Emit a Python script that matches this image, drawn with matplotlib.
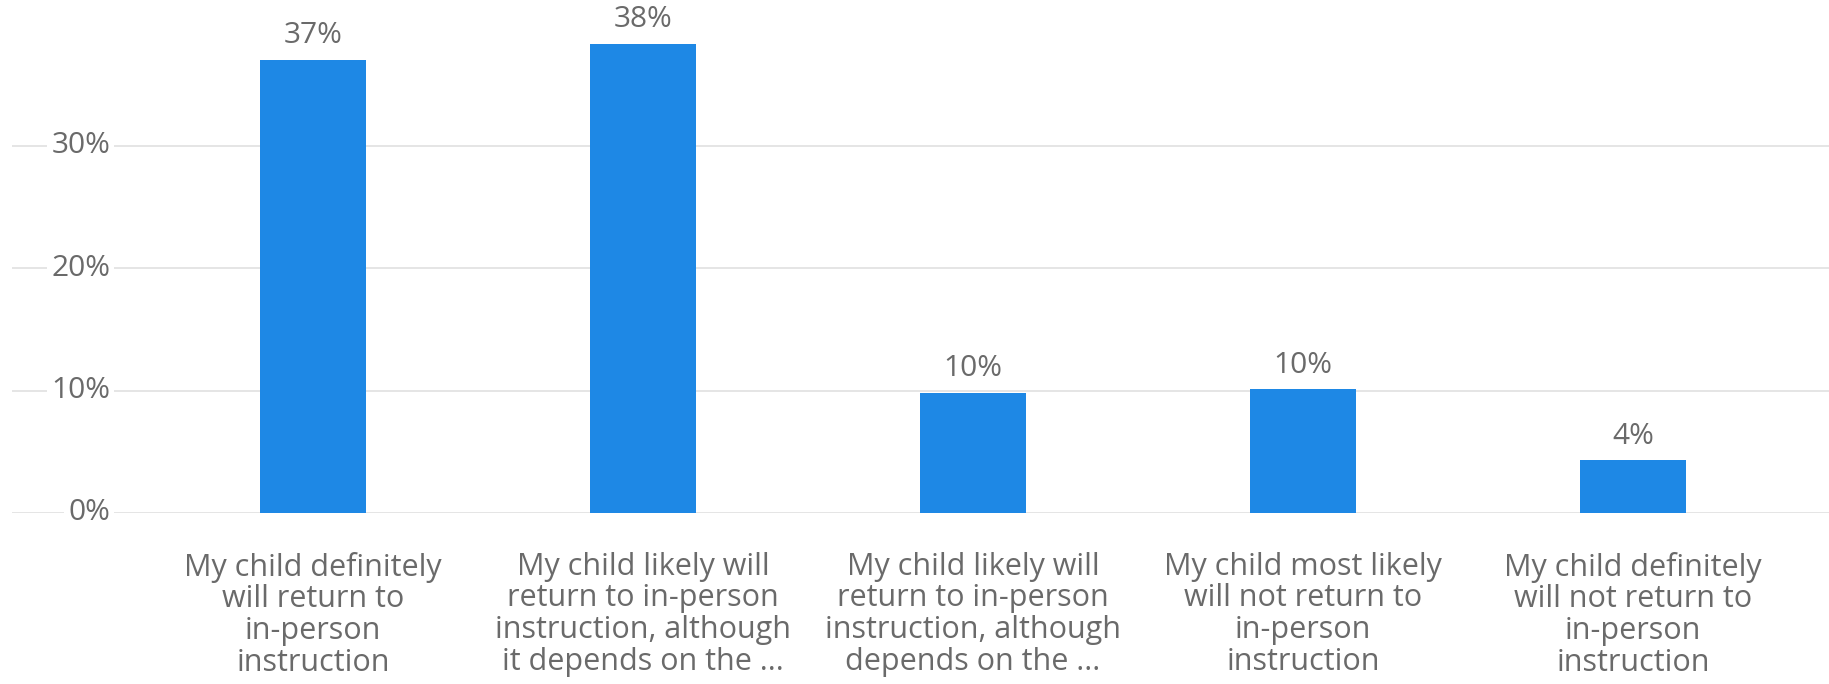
import numpy as np
import matplotlib
matplotlib.use('Agg')
import matplotlib.pyplot as plt

plt.rcParams['font.family'] = ['Open Sans', 'DejaVu Sans']

labels = ['My child definitely\nwill return to\nin-person\ninstruction',
          'My child likely will\nreturn to in-person\ninstruction, although\nit depends on the ...',
          'My child likely will\nreturn to in-person\ninstruction, although\ndepends on the ...',
          'My child most likely\nwill not return to\nin-person\ninstruction',
          'My child definitely\nwill not return to\nin-person\ninstruction']
values = [37.0, 38.3, 9.8, 10.1, 4.3]
value_labels = ['37%', '38%', '10%', '10%', '4%']
yticks = [0, 10, 20, 30]
ytick_labels = ['0%', '10%', '20%', '30%']

bar_color = '#1e88e5'
text_color = '#6a6a6a'
grid_color = '#e3e3e3'

fig = plt.figure(figsize=(18.29, 6.84), dpi=100)
# axes runs from the 0% line to the top of the picture, gridlines go nearly edge to edge
ax = fig.add_axes([12 / 1829, 171 / 684, 1817 / 1829, 513 / 684])

x = np.arange(len(labels))
width = 0.32
rects = ax.bar(x, values, width, color=bar_color, zorder=3)

ax.set_xlim(-0.912, 4.594)
ax.set_ylim(0, 41.9)

ax.set_yticks(yticks)
ax.set_yticklabels([])
ax.yaxis.grid(True, color=grid_color, linewidth=1.3, zorder=0)
ax.tick_params(axis='y', length=0)
ax.set_axisbelow(True)
for s in ax.spines.values():
    s.set_visible(False)

# y labels sit on top of the gridlines with a white box
for v, t in zip(yticks, ytick_labels):
    ax.text(0.054, v, t, transform=ax.get_yaxis_transform(), ha='right', va='center',
            fontsize=21.5, color=text_color, zorder=2,
            bbox=dict(facecolor='white', edgecolor='none', pad=3))

ax.set_xticks(x)
ax.set_xticklabels(labels, fontsize=22, color=text_color, linespacing=1.07)
ax.tick_params(axis='x', length=0, pad=28)

for rect, lab in zip(rects, value_labels):
    ax.annotate(lab,
                xy=(rect.get_x() + rect.get_width() / 2, rect.get_height()),
                xytext=(0, 7),
                textcoords="offset points",
                ha='center', va='bottom', fontsize=21.5, color=text_color)

fig.savefig('out.png', dpi=100, facecolor='white')
